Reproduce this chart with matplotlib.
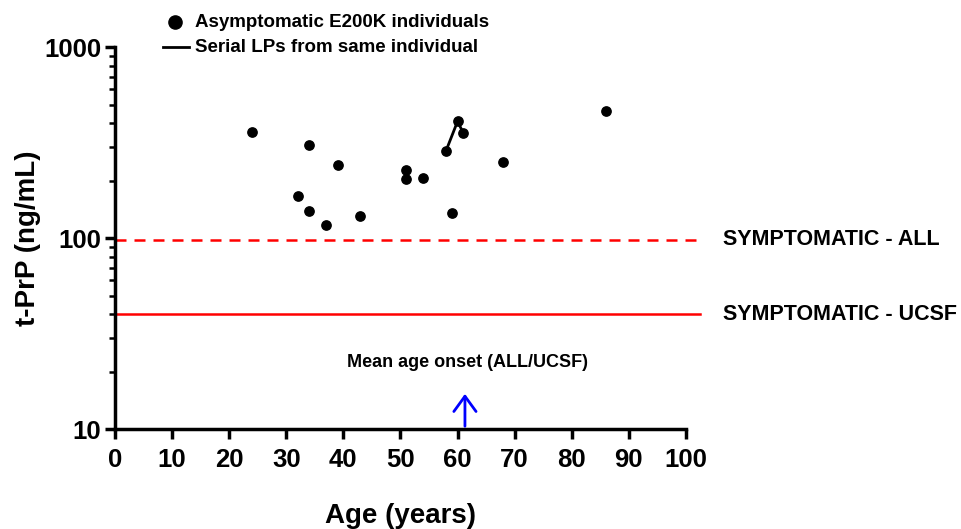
import numpy as np
import matplotlib.pyplot as plt
from matplotlib.ticker import LogLocator, NullFormatter, FixedLocator

plt.rcParams['font.family'] = ['Liberation Sans', 'DejaVu Sans']
plt.rcParams['font.weight'] = 'bold'

# asymptomatic E200K individuals
age = [24, 34, 39, 32, 34, 37, 43, 51, 51, 54, 58, 60, 61, 59, 68, 86]
tprp = [359, 307, 241, 166, 138, 117, 130, 227, 204, 206, 287, 408, 356, 135, 251, 464]

# serial LPs from same individual
serial_age = [58, 60, 61]
serial_tprp = [287, 408, 356]

sym_all = 98
sym_ucsf = 40
onset_age = 61.3

fig = plt.figure(figsize=(9.62, 5.29), dpi=100)
ax = fig.add_axes([0.1195, 0.189, 0.5935, 0.722])

ax.plot(serial_age, serial_tprp, color='black', lw=2, zorder=3)
ax.scatter(age, tprp, s=45, color='black', zorder=4)

ax.plot([0, 102.5], [sym_all, sym_all], color='red', lw=1.8, ls=(0, (4.4, 3.2)), clip_on=False)
ax.plot([0, 102.5], [sym_ucsf, sym_ucsf], color='red', lw=1.8, clip_on=False)
ax.text(106.5, sym_all, 'SYMPTOMATIC - ALL', fontsize=15.5, fontweight='bold', va='center')
ax.text(106.5, sym_ucsf, 'SYMPTOMATIC - UCSF', fontsize=15.5, fontweight='bold', va='center')

ax.annotate('', xy=(onset_age, 15.8), xytext=(onset_age, 10),
            arrowprops=dict(arrowstyle='->,head_width=0.8,head_length=1.1', color='blue', lw=2))
ax.text(61.8, 22.3, 'Mean age onset (ALL/UCSF)', fontsize=13, fontweight='bold', ha='center', va='center')

ax.set_yscale('log')
ax.set_xlim(0, 100)
ax.set_ylim(10, 1000)
ax.xaxis.set_major_locator(FixedLocator(np.arange(0, 101, 10)))
ax.yaxis.set_major_locator(FixedLocator([10, 100, 1000]))
ax.yaxis.set_minor_locator(LogLocator(base=10, subs=np.arange(2, 10)))
ax.yaxis.set_minor_formatter(NullFormatter())
ax.set_yticklabels(['10', '100', '1000'])

for s in ['top', 'right']:
    ax.spines[s].set_visible(False)
for s in ['left', 'bottom']:
    ax.spines[s].set_linewidth(2.5)
ax.tick_params(axis='both', which='major', direction='out', length=7, width=2.5, labelsize=18.5, pad=3)
ax.tick_params(axis='x', which='major', pad=7)
ax.tick_params(axis='y', which='minor', direction='out', length=4, width=1.8)
for lab in ax.get_xticklabels() + ax.get_yticklabels():
    lab.set_fontweight('bold')

ax.set_xlabel('Age (years)', fontsize=20, fontweight='bold', labelpad=22)
ax.set_ylabel('t-PrP (ng/mL)', fontsize=20, fontweight='bold', labelpad=2)

# legend
fig.add_artist(plt.Line2D([0.182], [0.958], marker='o', ms=9.5, color='black', ls='none'))
fig.add_artist(plt.Line2D([0.169, 0.196], [0.911, 0.911], color='black', lw=2))
fig.text(0.203, 0.958, 'Asymptomatic E200K individuals', fontsize=13.5, fontweight='bold', va='center')
fig.text(0.203, 0.911, 'Serial LPs from same individual', fontsize=13.5, fontweight='bold', va='center')

fig.savefig('out.png', dpi=100)
